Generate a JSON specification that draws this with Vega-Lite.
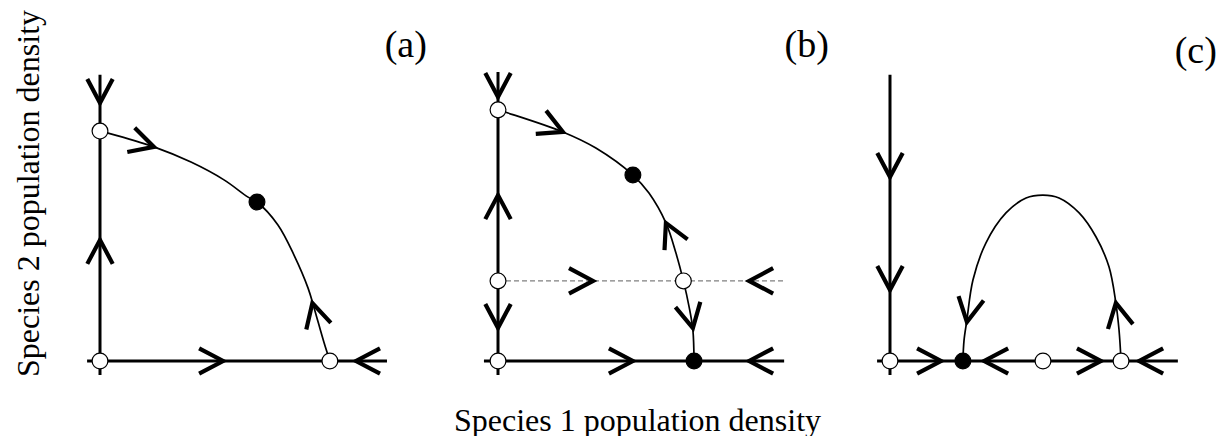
{
  "$schema": "https://vega.github.io/schema/vega-lite/v6.json",
  "background": "white",
  "padding": {"left": 12, "top": 5, "right": 0, "bottom": 0},
  "bounds": "flush",
  "spacing": 36,
  "config": {"view": {"stroke": null}, "font": "Liberation Serif"},
  "datasets": {
    "axes": [
      {"panel": "a", "x": 0, "y": -4.9, "x2": 0, "y2": 99.7},
      {"panel": "a", "x": -4.5, "y": 0, "x2": 100.0, "y2": 0},
      {"panel": "b", "x": 0, "y": -4.9, "x2": 0, "y2": 100.7},
      {"panel": "b", "x": -4.9, "y": 0, "x2": 99.7, "y2": 0},
      {"panel": "c", "x": 0, "y": -4.9, "x2": 0, "y2": 99.7},
      {"panel": "c", "x": -4.5, "y": 0, "x2": 100.3, "y2": 0}
    ],
    "dashed": [
      {"panel": "b", "x": 0, "y": 27.9, "x2": 99.7, "y2": 27.9}
    ],
    "curves": [
      {"panel": "a", "i": 0, "x": 0, "y": 80.1},
      {"panel": "a", "i": 1, "x": 2.8, "y": 79.4},
      {"panel": "a", "i": 2, "x": 18.8, "y": 74.6},
      {"panel": "a", "i": 3, "x": 31.7, "y": 69.3},
      {"panel": "a", "i": 4, "x": 43.2, "y": 63.1},
      {"panel": "a", "i": 5, "x": 51.6, "y": 57.1},
      {"panel": "a", "i": 6, "x": 54.7, "y": 55.4},
      {"panel": "a", "i": 7, "x": 62.0, "y": 47.4},
      {"panel": "a", "i": 8, "x": 67.6, "y": 36.9},
      {"panel": "a", "i": 9, "x": 72.5, "y": 25.4},
      {"panel": "a", "i": 10, "x": 74.6, "y": 18.5},
      {"panel": "a", "i": 11, "x": 78.0, "y": 6.6},
      {"panel": "a", "i": 12, "x": 80.1, "y": 0},
      {"panel": "b", "i": 0, "x": 0, "y": 87.5},
      {"panel": "b", "i": 1, "x": 3.5, "y": 86.4},
      {"panel": "b", "i": 2, "x": 22.6, "y": 79.8},
      {"panel": "b", "i": 3, "x": 34.1, "y": 74.2},
      {"panel": "b", "i": 4, "x": 47.0, "y": 64.8},
      {"panel": "b", "i": 5, "x": 52.6, "y": 58.5},
      {"panel": "b", "i": 6, "x": 58.5, "y": 48.1},
      {"panel": "b", "i": 7, "x": 62.0, "y": 37.6},
      {"panel": "b", "i": 8, "x": 64.6, "y": 27.9},
      {"panel": "b", "i": 9, "x": 66.6, "y": 18.8},
      {"panel": "b", "i": 10, "x": 67.9, "y": 10.8},
      {"panel": "b", "i": 11, "x": 68.3, "y": 0},
      {"panel": "c", "i": 0, "x": 25.4, "y": 0},
      {"panel": "c", "i": 1, "x": 25.8, "y": 7.3},
      {"panel": "c", "i": 2, "x": 26.8, "y": 14.3},
      {"panel": "c", "i": 3, "x": 28.9, "y": 28.2},
      {"panel": "c", "i": 4, "x": 33.4, "y": 41.1},
      {"panel": "c", "i": 5, "x": 40.4, "y": 51.6},
      {"panel": "c", "i": 6, "x": 47.4, "y": 56.8},
      {"panel": "c", "i": 7, "x": 53.3, "y": 57.8},
      {"panel": "c", "i": 8, "x": 58.9, "y": 56.8},
      {"panel": "c", "i": 9, "x": 65.9, "y": 51.6},
      {"panel": "c", "i": 10, "x": 71.8, "y": 43.2},
      {"panel": "c", "i": 11, "x": 76.3, "y": 32.8},
      {"panel": "c", "i": 12, "x": 78.7, "y": 20.2},
      {"panel": "c", "i": 13, "x": 79.8, "y": 10.8},
      {"panel": "c", "i": 14, "x": 80.5, "y": 0}
    ],
    "arrows": [
      {"panel": "a", "x": 0, "y": 89.9, "dir": 90},
      {"panel": "a", "x": 0, "y": 42.2, "dir": 270},
      {"panel": "a", "x": 42.9, "y": 0, "dir": 0},
      {"panel": "a", "x": 89.2, "y": 0, "dir": 180},
      {"panel": "a", "x": 18.8, "y": 74.6, "dir": 17},
      {"panel": "a", "x": 74.0, "y": 20.2, "dir": 255},
      {"panel": "b", "x": 0, "y": 92.0, "dir": 90},
      {"panel": "b", "x": 0, "y": 57.8, "dir": 270},
      {"panel": "b", "x": 0, "y": 11.5, "dir": 90},
      {"panel": "b", "x": 22.6, "y": 79.8, "dir": 24},
      {"panel": "b", "x": 58.5, "y": 48.1, "dir": 245},
      {"panel": "b", "x": 33.1, "y": 27.9, "dir": 0},
      {"panel": "b", "x": 87.5, "y": 27.9, "dir": 180},
      {"panel": "b", "x": 67.9, "y": 11.5, "dir": 78},
      {"panel": "b", "x": 47.0, "y": 0, "dir": 0},
      {"panel": "b", "x": 87.5, "y": 0, "dir": 180},
      {"panel": "c", "x": 0, "y": 64.1, "dir": 90},
      {"panel": "c", "x": 0, "y": 24.7, "dir": 90},
      {"panel": "c", "x": 17.8, "y": 0, "dir": 0},
      {"panel": "c", "x": 32.8, "y": 0, "dir": 180},
      {"panel": "c", "x": 73.5, "y": 0, "dir": 0},
      {"panel": "c", "x": 86.8, "y": 0, "dir": 180},
      {"panel": "c", "x": 26.8, "y": 13.6, "dir": 100},
      {"panel": "c", "x": 78.7, "y": 20.2, "dir": 259}
    ],
    "equilibria": [
      {"panel": "a", "x": 0, "y": 80.1, "stability": "unstable"},
      {"panel": "a", "x": 0, "y": 0, "stability": "unstable"},
      {"panel": "a", "x": 80.1, "y": 0, "stability": "unstable"},
      {"panel": "a", "x": 54.7, "y": 55.4, "stability": "stable"},
      {"panel": "b", "x": 0, "y": 87.5, "stability": "unstable"},
      {"panel": "b", "x": 0, "y": 27.9, "stability": "unstable"},
      {"panel": "b", "x": 0, "y": 0, "stability": "unstable"},
      {"panel": "b", "x": 64.6, "y": 27.9, "stability": "unstable"},
      {"panel": "b", "x": 47.0, "y": 64.8, "stability": "stable"},
      {"panel": "b", "x": 68.3, "y": 0, "stability": "stable"},
      {"panel": "c", "x": 0, "y": 0, "stability": "unstable"},
      {"panel": "c", "x": 25.4, "y": 0, "stability": "stable"},
      {"panel": "c", "x": 53.3, "y": 0, "stability": "unstable"},
      {"panel": "c", "x": 80.5, "y": 0, "stability": "unstable"}
    ],
    "labels": [
      {"panel": "a", "x": 113.9, "y": 105.9, "text": "(a)"},
      {"panel": "b", "x": 115.3, "y": 105.9, "text": "(b)"},
      {"panel": "c", "x": 113.9, "y": 103.8, "text": "(c)"}
    ]
  },
  "hconcat": [
    {
      "width": 360,
      "height": 376,
      "encoding": {
        "x": {"field": "x", "type": "quantitative", "scale": {"domain": [-13.59, 111.85], "nice": false, "zero": false}, "axis": null},
        "y": {"field": "y", "type": "quantitative", "scale": {"domain": [-6.97, 124.04], "nice": false, "zero": false},
              "axis": {"title": "Species 2 population density", "labels": false, "ticks": false, "domain": false, "grid": false,
                       "titleFont": "Liberation Serif", "titleFontSize": 32, "titleFontWeight": "normal", "titleColor": "black", "titlePadding": 16}}
      },
      "layer": [
        {"data": {"name": "axes"}, "transform": [{"filter": "datum.panel == 'a'"}],
         "mark": {"type": "rule", "strokeWidth": 3, "color": "black"},
         "encoding": {"x2": {"field": "x2"}, "y2": {"field": "y2"}}},
        {"data": {"name": "curves"}, "transform": [{"filter": "datum.panel == 'a'"}],
         "mark": {"type": "line", "strokeWidth": 1.7, "color": "black", "interpolate": "catmull-rom"},
         "encoding": {"order": {"field": "i", "type": "quantitative"}}},
        {"data": {"name": "arrows"}, "transform": [{"filter": "datum.panel == 'a'"}],
         "mark": {"type": "point", "shape": "M-1,-0.53L0,0L-1,0.53", "size": 2304, "filled": false, "color": "black", "strokeWidth": 4.2, "opacity": 1},
         "encoding": {"angle": {"field": "dir", "type": "quantitative", "scale": null}}},
        {"data": {"name": "equilibria"}, "transform": [{"filter": "datum.panel == 'a'"}],
         "mark": {"type": "point", "shape": "circle", "size": 250, "filled": true, "stroke": "black", "strokeWidth": 1.2, "opacity": 1},
         "encoding": {"fill": {"field": "stability", "type": "nominal", "scale": {"domain": ["stable", "unstable"], "range": ["black", "white"]}, "legend": null}}},
        {"data": {"name": "labels"}, "transform": [{"filter": "datum.panel == 'a'"}],
         "mark": {"type": "text", "font": "Liberation Serif", "fontSize": 38, "align": "right", "baseline": "alphabetic", "color": "black"},
         "encoding": {"text": {"field": "text"}}}
      ]
    },
    {
      "width": 360,
      "height": 376,
      "encoding": {
        "x": {"field": "x", "type": "quantitative", "scale": {"domain": [-14.29, 111.15], "nice": false, "zero": false},
              "axis": {"title": "Species 1 population density", "labels": false, "ticks": false, "domain": false, "grid": false,
                       "titleFont": "Liberation Serif", "titleFontSize": 32, "titleFontWeight": "normal", "titleColor": "black", "titlePadding": 24}},
        "y": {"field": "y", "type": "quantitative", "scale": {"domain": [-6.97, 124.04], "nice": false, "zero": false}, "axis": null}
      },
      "layer": [
        {"data": {"name": "axes"}, "transform": [{"filter": "datum.panel == 'b'"}],
         "mark": {"type": "rule", "strokeWidth": 3, "color": "black"},
         "encoding": {"x2": {"field": "x2"}, "y2": {"field": "y2"}}},
        {"data": {"name": "dashed"}, "transform": [{"filter": "datum.panel == 'b'"}],
         "mark": {"type": "rule", "strokeWidth": 1.2, "color": "#808080", "strokeDash": [5, 3]},
         "encoding": {"x2": {"field": "x2"}, "y2": {"field": "y2"}}},
        {"data": {"name": "curves"}, "transform": [{"filter": "datum.panel == 'b'"}],
         "mark": {"type": "line", "strokeWidth": 1.7, "color": "black", "interpolate": "catmull-rom"},
         "encoding": {"order": {"field": "i", "type": "quantitative"}}},
        {"data": {"name": "arrows"}, "transform": [{"filter": "datum.panel == 'b'"}],
         "mark": {"type": "point", "shape": "M-1,-0.53L0,0L-1,0.53", "size": 2304, "filled": false, "color": "black", "strokeWidth": 4.2, "opacity": 1},
         "encoding": {"angle": {"field": "dir", "type": "quantitative", "scale": null}}},
        {"data": {"name": "equilibria"}, "transform": [{"filter": "datum.panel == 'b'"}],
         "mark": {"type": "point", "shape": "circle", "size": 250, "filled": true, "stroke": "black", "strokeWidth": 1.2, "opacity": 1},
         "encoding": {"fill": {"field": "stability", "type": "nominal", "scale": {"domain": ["stable", "unstable"], "range": ["black", "white"]}, "legend": null}}},
        {"data": {"name": "labels"}, "transform": [{"filter": "datum.panel == 'b'"}],
         "mark": {"type": "text", "font": "Liberation Serif", "fontSize": 38, "align": "right", "baseline": "alphabetic", "color": "black"},
         "encoding": {"text": {"field": "text"}}}
      ]
    },
    {
      "width": 360,
      "height": 376,
      "encoding": {
        "x": {"field": "x", "type": "quantitative", "scale": {"domain": [-12.89, 112.54], "nice": false, "zero": false}, "axis": null},
        "y": {"field": "y", "type": "quantitative", "scale": {"domain": [-6.97, 124.04], "nice": false, "zero": false}, "axis": null}
      },
      "layer": [
        {"data": {"name": "axes"}, "transform": [{"filter": "datum.panel == 'c'"}],
         "mark": {"type": "rule", "strokeWidth": 3, "color": "black"},
         "encoding": {"x2": {"field": "x2"}, "y2": {"field": "y2"}}},
        {"data": {"name": "curves"}, "transform": [{"filter": "datum.panel == 'c'"}],
         "mark": {"type": "line", "strokeWidth": 1.7, "color": "black", "interpolate": "catmull-rom"},
         "encoding": {"order": {"field": "i", "type": "quantitative"}}},
        {"data": {"name": "arrows"}, "transform": [{"filter": "datum.panel == 'c'"}],
         "mark": {"type": "point", "shape": "M-1,-0.53L0,0L-1,0.53", "size": 2304, "filled": false, "color": "black", "strokeWidth": 4.2, "opacity": 1},
         "encoding": {"angle": {"field": "dir", "type": "quantitative", "scale": null}}},
        {"data": {"name": "equilibria"}, "transform": [{"filter": "datum.panel == 'c'"}],
         "mark": {"type": "point", "shape": "circle", "size": 250, "filled": true, "stroke": "black", "strokeWidth": 1.2, "opacity": 1},
         "encoding": {"fill": {"field": "stability", "type": "nominal", "scale": {"domain": ["stable", "unstable"], "range": ["black", "white"]}, "legend": null}}},
        {"data": {"name": "labels"}, "transform": [{"filter": "datum.panel == 'c'"}],
         "mark": {"type": "text", "font": "Liberation Serif", "fontSize": 38, "align": "right", "baseline": "alphabetic", "color": "black"},
         "encoding": {"text": {"field": "text"}}}
      ]
    }
  ]
}
